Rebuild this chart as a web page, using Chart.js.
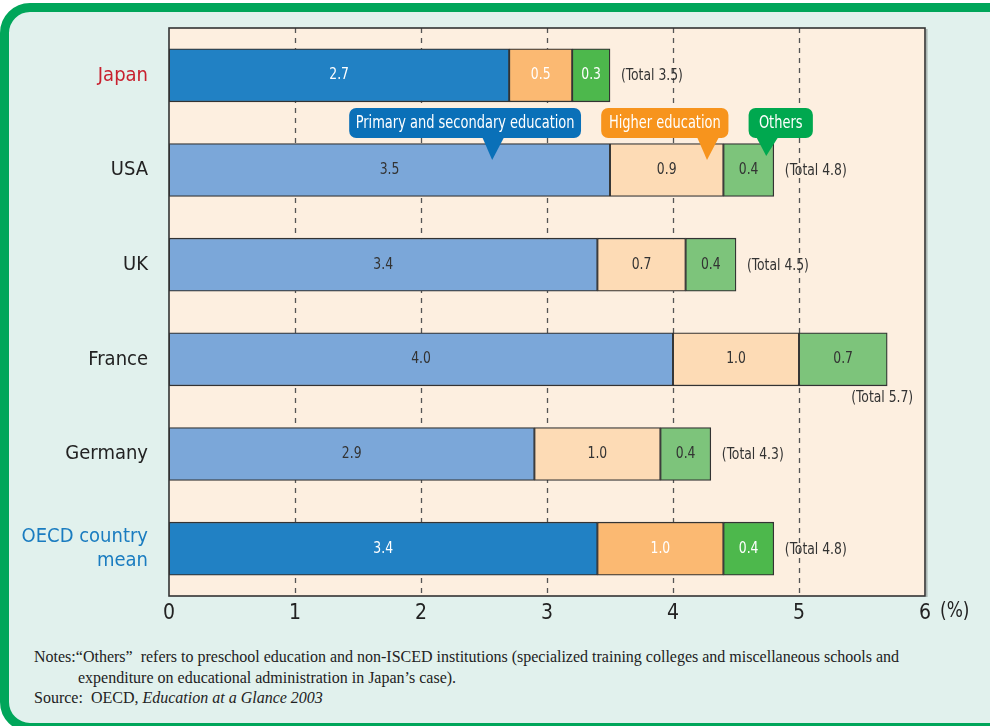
<!DOCTYPE html>
<html>
<head>
<meta charset="utf-8">
<script src="https://cdn.jsdelivr.net/npm/chart.js@4"></script>
<style>
  html, body { margin: 0; padding: 0; width: 990px; height: 726px; overflow: hidden; background: #ffffff; }
  .frame {
    position: absolute; left: 0; top: 3px; width: 1030px; height: 729px;
    box-sizing: border-box; border: 9px solid #00a65a; border-radius: 30px;
    background: #e1f1ed;
  }
  #wrap { position: absolute; left: 0; top: 0; width: 990px; height: 640px; }
  .notes {
    position: absolute; left: 34px; top: 647px;
    font-family: 'Liberation Serif', 'DejaVu Serif', serif; font-size: 16px;
    line-height: 20.5px; color: #222;
  }
  .notes .indent { padding-left: 44px; }
</style>
</head>
<body>
<div class="frame"></div>
<div id="wrap"><canvas id="chart" width="990" height="640"></canvas></div>
<div class="notes">
  <div>Notes:“Others”&nbsp; refers to preschool education and non-ISCED institutions (specialized training colleges and miscellaneous schools and</div>
  <div class="indent">expenditure on educational administration in Japan’s case).</div>
  <div>Source:&nbsp; OECD, <i>Education at a Glance 2003</i></div>
</div>
<script>
const categories = ['Japan', 'USA', 'UK', 'France', 'Germany', ['OECD country', 'mean']];
const primary = [2.7, 3.5, 3.4, 4.0, 2.9, 3.4];
const higher = [0.5, 0.9, 0.7, 1.0, 1.0, 1.0];
const others = [0.3, 0.4, 0.4, 0.7, 0.4, 0.4];
const totals = [3.5, 4.8, 4.5, 5.7, 4.3, 4.8];
const xTicks = [0, 1, 2, 3, 4, 5, 6];
const highlight = [true, false, false, false, false, true];
const labelColors = ['#c8202e', '#222', '#222', '#222', '#222', '#1a7cc0'];

const FONT = "'DejaVu Sans Condensed', 'Roboto', sans-serif";

// dark shades for Japan and the OECD mean, pale ones for the rest
const pick = (dark, light) => highlight.map(h => h ? dark : light);

const callouts = [
    { text: 'Primary and secondary education', color: '#0a70b8', from: 1.43, to: 3.27, tipX: 2.565, tipDy: -10 },
    { text: 'Higher education', color: '#f7941d', from: 3.43, to: 4.44, tipX: 4.27, tipDy: -10 },
    { text: 'Others', color: '#00a84f', from: 4.6, to: 5.11, tipX: 4.74, tipDy: -14 }
];

// narrow text, the reference uses a condensed face
function squeezeText(ctx, text, x, y, sx) {
    ctx.save();
    ctx.translate(x, y);
    ctx.scale(sx, 1);
    ctx.fillText(text, 0, 0);
    ctx.restore();
}

const decor = {
    id: 'decor',
    beforeDraw(chart) {
        const { ctx, chartArea: a, scales: { x } } = chart;
        ctx.save();
        ctx.fillStyle = '#fdefe0';
        ctx.fillRect(a.left, a.top, a.right - a.left, a.bottom - a.top);
        ctx.strokeStyle = '#555';
        ctx.lineWidth = 1.3;
        ctx.setLineDash([5, 5]);
        xTicks.slice(1, -1).forEach(v => {
            const px = Math.round(x.getPixelForValue(v)) + 0.5;
            ctx.beginPath();
            ctx.moveTo(px, a.top);
            ctx.lineTo(px, a.bottom);
            ctx.stroke();
        });
        ctx.restore();
    },
    afterDatasetsDraw(chart) {
        const { ctx, chartArea: a, scales: { x, y } } = chart;
        ctx.save();
        // plot frame
        ctx.strokeStyle = '#333';
        ctx.lineWidth = 1.6;
        ctx.strokeRect(a.left, a.top, a.right - a.left, a.bottom - a.top);
        ctx.strokeStyle = 'rgba(0,0,0,0.25)';
        ctx.lineWidth = 1.5;
        ctx.beginPath();
        ctx.moveTo(a.right + 1.8, a.top + 1);
        ctx.lineTo(a.right + 1.8, a.bottom + 1);
        ctx.stroke();

        // segment values
        ctx.font = '16px ' + FONT;
        ctx.textAlign = 'center';
        ctx.textBaseline = 'middle';
        chart.data.datasets.forEach((ds, i) => {
            chart.getDatasetMeta(i).data.forEach((bar, j) => {
                ctx.fillStyle = highlight[j] ? '#ffffff' : '#333';
                squeezeText(ctx, ds.data[j].toFixed(1), (bar.x + bar.base) / 2, bar.y, 0.86);
            });
        });

        // totals
        ctx.fillStyle = '#333';
        totals.forEach((t, j) => {
            const px = x.getPixelForValue(t);
            const py = y.getPixelForValue(j);
            if (px + 110 > a.right) {
                ctx.textAlign = 'right';
                squeezeText(ctx, '(Total ' + t.toFixed(1) + ')', px + 26, py + 39, 0.86);
            } else {
                ctx.textAlign = 'left';
                squeezeText(ctx, '(Total ' + t.toFixed(1) + ')', px + 11, py + 1, 0.86);
            }
        });

        // callouts pointing into the USA bar
        const yUsa = y.getPixelForValue(1);
        ctx.font = '17px ' + FONT;
        ctx.textAlign = 'center';
        callouts.forEach(c => {
            const left = x.getPixelForValue(c.from);
            const right = x.getPixelForValue(c.to);
            const top = yUsa - 62, h = 30, r = 7;
            const tx = x.getPixelForValue(c.tipX);
            ctx.fillStyle = c.color;
            ctx.beginPath();
            ctx.roundRect(left, top, right - left, h, r);
            ctx.fill();
            ctx.beginPath();
            ctx.moveTo(tx - 10, top + h - 1);
            ctx.lineTo(tx + 12, top + h - 1);
            ctx.lineTo(tx, yUsa + c.tipDy);
            ctx.closePath();
            ctx.fill();
            ctx.fillStyle = '#ffffff';
            squeezeText(ctx, c.text, (left + right) / 2, top + h / 2 + 1, 0.85);
        });

        // unit
        ctx.font = '21px ' + FONT;
        ctx.fillStyle = '#222';
        ctx.textAlign = 'left';
        squeezeText(ctx, '(%)', a.right + 15, a.bottom + 16, 0.9);
        ctx.restore();
    }
};

const ctx = document.getElementById('chart').getContext('2d');
const chart = new Chart(ctx, {
    type: 'bar',
    data: {
        labels: categories,
        datasets: [{
            label: 'Primary and secondary education',
            data: primary,
            backgroundColor: pick('#2181c4', '#7ba7d9')
        }, {
            label: 'Higher education',
            data: higher,
            backgroundColor: pick('#fbb972', '#fddbb5')
        }, {
            label: 'Others',
            data: others,
            backgroundColor: pick('#4db84c', '#7dc47b')
        }]
    },
    options: {
        indexAxis: 'y',
        responsive: false,
        animation: false,
        events: [],
        datasets: {
            bar: { barThickness: 53, borderColor: '#333', borderWidth: 1.3, borderSkipped: false }
        },
        layout: { padding: { top: 28, right: 65, left: 0, bottom: 0 } },
        plugins: { legend: { display: false }, tooltip: { enabled: false } },
        scales: {
            x: {
                stacked: true,
                min: 0,
                max: 6,
                afterBuildTicks: s => { s.ticks = xTicks.map(v => ({ value: v })); },
                afterFit: s => { s.height = 44; s.paddingLeft = 0; s.paddingRight = 0; },
                grid: { display: false, drawTicks: false },
                border: { display: false },
                ticks: { padding: 5, color: '#222', font: { family: FONT, size: 21 } }
            },
            y: {
                stacked: true,
                afterFit: s => { s.width = 169; s.paddingTop = 0; s.paddingBottom = 0; },
                grid: { display: false, drawTicks: false },
                border: { display: false },
                ticks: {
                    padding: 21,
                    color: c => labelColors[c.index],
                    font: { family: FONT, size: 20, lineHeight: 1.2 }
                }
            }
        }
    },
    plugins: [decor]
});
</script>
</body>
</html>
